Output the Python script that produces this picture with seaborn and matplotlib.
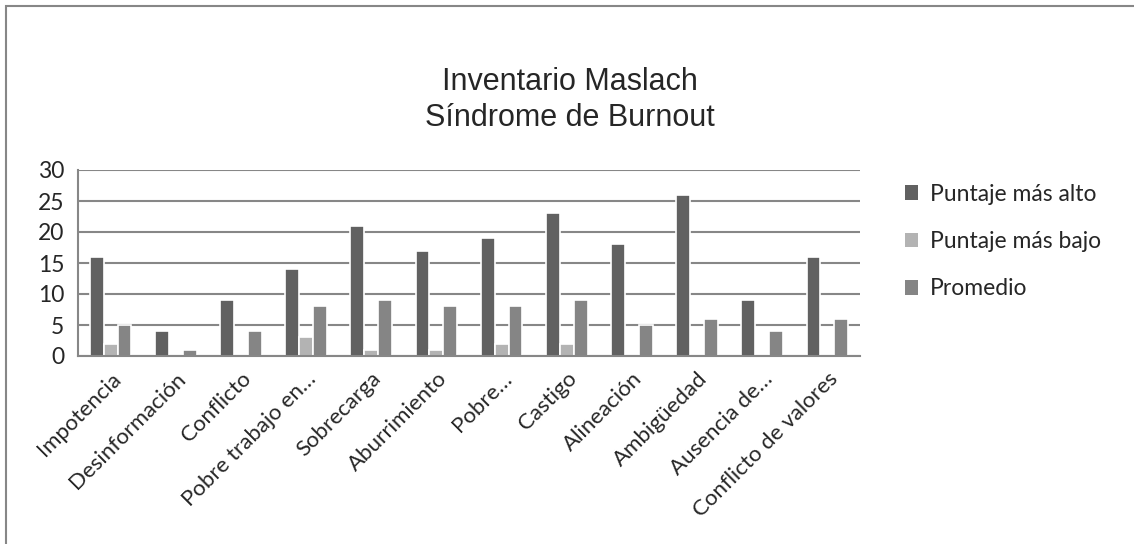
import numpy as np
import pandas as pd
import seaborn as sns
from matplotlib import pyplot as plt
from matplotlib.patches import Patch, Rectangle

categorias = ['Impotencia', 'Desinformación', 'Conflicto', 'Pobre trabajo en…',
              'Sobrecarga', 'Aburrimiento', 'Pobre…', 'Castigo', 'Alineación',
              'Ambigüedad', 'Ausencia de…', 'Conflicto de valores']
puntaje_alto = [16, 4, 9, 14, 21, 17, 19, 23, 18, 26, 9, 16]
puntaje_bajo = [2, 0, 0, 3, 1, 1, 2, 2, 0, 0, 0, 0]
promedio = [5, 1, 4, 8, 9, 8, 8, 9, 5, 6, 4, 6]
series = ['Puntaje más alto', 'Puntaje más bajo', 'Promedio']
colores = ['#616161', '#b3b3b3', '#858585']
y_ticks = [0, 5, 10, 15, 20, 25, 30]

df = pd.DataFrame({'categoria': categorias, series[0]: puntaje_alto,
                   series[1]: puntaje_bajo, series[2]: promedio})
largo = df.melt(id_vars='categoria', var_name='serie', value_name='valor')

sns.set_style('white')
plt.rcParams['font.family'] = ['Lato', 'DejaVu Sans']
gris = '#878787'

W, H = 1134, 544
fig = plt.figure(figsize=(W / 100, H / 100), dpi=100)
ax = fig.add_axes([78 / W, 1 - 356 / H, (860 - 78) / W, (356 - 170) / H])

sns.barplot(data=largo, x='categoria', y='valor', hue='serie', hue_order=series,
            palette=colores, saturation=1, width=0.64, edgecolor='white',
            linewidth=1.2, legend=False, ax=ax)

ax.set_xlim(-0.5, len(categorias) - 0.5)
ax.set_ylim(0, 30)
ax.set_yticks(y_ticks)
ax.set_axisbelow(True)
ax.yaxis.grid(True, color=gris, linewidth=1.5)
ax.xaxis.grid(False)
for lado in ['top', 'right']:
    ax.spines[lado].set_visible(False)
for lado in ['left', 'bottom']:
    ax.spines[lado].set_color(gris)
    ax.spines[lado].set_linewidth(1.5)

# tick marks between categories, labels at centers
ax.set_xticks(np.arange(-0.5, len(categorias), 1), minor=True)
ax.tick_params(axis='x', which='minor', length=7, width=1.2, color=gris)
ax.tick_params(axis='x', which='major', length=0, pad=9)
ax.tick_params(axis='y', length=6, width=1.5, color=gris, labelsize=16.5, pad=4)
ax.set_xticks(range(len(categorias)))
ax.set_xticklabels(categorias, rotation=45, ha='right', rotation_mode='anchor',
                   fontsize=16)
ax.set_xlabel('')
ax.set_ylabel('')

fig.text(570 / W, 1 - 100 / H, 'Inventario Maslach\nSíndrome de Burnout',
         ha='center', va='center', fontsize=22, linespacing=1.25,
         family=['Liberation Sans', 'DejaVu Sans'])

handles = [Patch(facecolor=c, edgecolor='none') for c in colores]
fig.legend(handles, series, loc='upper left', bbox_to_anchor=(884 / W, 1 - 163 / H),
           frameon=False, fontsize=16.5, labelspacing=1.15, handlelength=0.6,
           handleheight=0.6, handletextpad=0.5)

fig.add_artist(Rectangle((6 / W, -0.1), 2, 1.1 - 6 / H, transform=fig.transFigure,
                         fill=False, edgecolor=gris, linewidth=1.5))

fig.savefig('out.png', dpi=100)
